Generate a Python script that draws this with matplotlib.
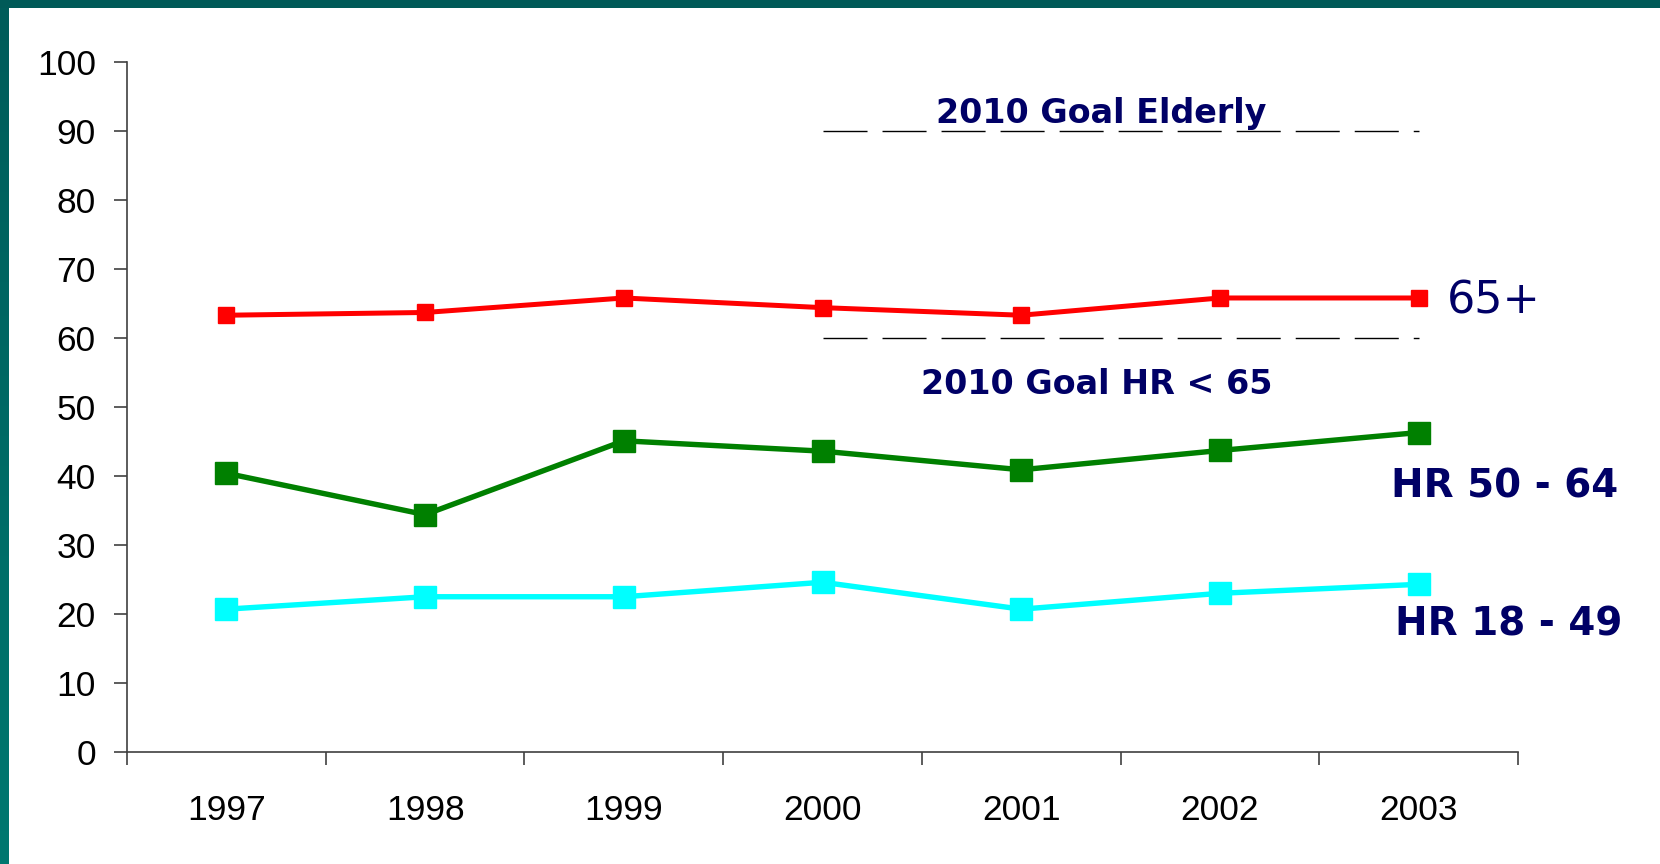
import matplotlib
matplotlib.use("Agg")
import matplotlib.pyplot as plt
import numpy as np
from matplotlib.colors import LinearSegmentedColormap

years = ["1997", "1998", "1999", "2000", "2001", "2002", "2003"]
elderly_65plus = [63.3, 63.7, 65.8, 64.4, 63.3, 65.8, 65.8]
hr_50_64 = [40.4, 34.4, 45.1, 43.6, 40.9, 43.7, 46.3]
hr_18_49 = [20.7, 22.5, 22.5, 24.6, 20.7, 23.0, 24.3]
goal_elderly = 90
goal_hr = 60
goal_start_year = "2000"
yticks = list(range(0, 101, 10))

NAVY = "#000066"
plt.rcParams['lines.scale_dashes'] = False

fig = plt.figure(figsize=(16.6, 8.64), dpi=100)
fig.patch.set_facecolor("white")

# decorative frame: top bar and left gradient bar
top = fig.add_axes([0, 1 - 8 / 864, 1, 8 / 864])
top.set_facecolor("#005a58")
top.set_xticks([]); top.set_yticks([])
for s in top.spines.values():
    s.set_visible(False)
left = fig.add_axes([0, 0, 8 / 1660, 1 - 8 / 864])
grad = np.linspace(0, 1, 256).reshape(-1, 1)
cm = LinearSegmentedColormap.from_list("g", ["#007870", "#005c5a"])
left.imshow(grad, aspect="auto", cmap=cm, origin="lower", extent=[0, 1, 0, 1])
left.axis("off")

ax = fig.add_axes([127 / 1660, (864 - 752) / 864, (1518 - 127) / 1660, (752 - 62) / 864])
x = np.arange(len(years))

ax.plot(x, elderly_65plus, color="#ff0000", lw=3.6, marker="s", ms=11, zorder=3)
ax.plot(x, hr_50_64, color="#008000", lw=3.9, marker="s", ms=16.5, zorder=3)
ax.plot(x, hr_18_49, color="#00ffff", lw=3.9, marker="s", ms=16.5, zorder=3)

gi = years.index(goal_start_year)
gx = [x[gi], x[-1]]
for g in (goal_elderly, goal_hr):
    ax.plot(gx, [g, g], color="black", lw=1.0, dashes=(31.7, 10.8), zorder=2)

ax.set_xlim(-0.5, len(years) - 0.5)
ax.set_ylim(0, 100)
ax.set_yticks(yticks)
ax.set_yticklabels([str(v) for v in yticks], fontsize=25.5, family="Liberation Sans")
ax.set_xticks(np.arange(-0.5, len(years), 1.0))
ax.set_xticklabels([])
ax.set_xticks(x, minor=True)
ax.set_xticklabels(years, minor=True, fontsize=25.5, family="Liberation Sans")
ax.tick_params(axis="y", direction="out", length=9.5, width=1.1, color="#303030", pad=13)
ax.tick_params(axis="x", which="major", direction="out", length=9, width=1.1, color="#303030")
ax.tick_params(axis="x", which="minor", length=0, pad=30)
for s in ("top", "right"):
    ax.spines[s].set_visible(False)
for s in ("left", "bottom"):
    ax.spines[s].set_color("#404040")
    ax.spines[s].set_linewidth(1.2)

ax.text(4.40, 91.2, "2010 Goal Elderly", ha="center", va="baseline", fontsize=24,
        fontweight="bold", color=NAVY, family="DejaVu Sans")
ax.text(4.38, 51.9, "2010 Goal HR < 65", ha="center", va="baseline", fontsize=24,
        fontweight="bold", color=NAVY, family="DejaVu Sans")
ax.text(6.14, 63.6, "65+", ha="left", va="baseline", fontsize=32,
        color=NAVY, family="DejaVu Sans", clip_on=False)
ax.text(5.86, 36.9, "HR 50 - 64", ha="left", va="baseline", fontsize=28,
        fontweight="bold", color=NAVY, family="DejaVu Sans", clip_on=False)
ax.text(5.88, 16.9, "HR 18 - 49", ha="left", va="baseline", fontsize=28,
        fontweight="bold", color=NAVY, family="DejaVu Sans", clip_on=False)

fig.savefig("out.png", dpi=100)
